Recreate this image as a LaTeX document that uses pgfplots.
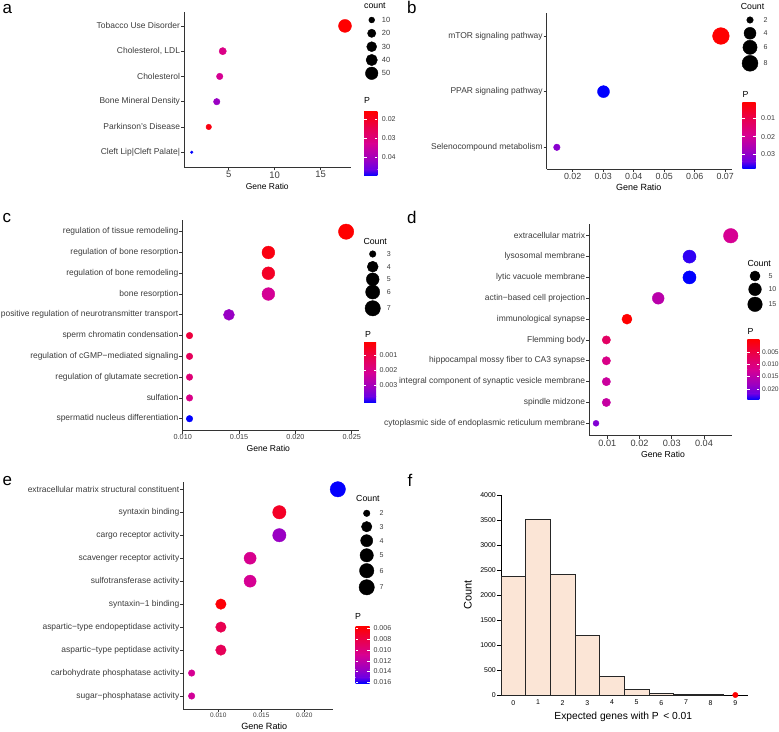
\documentclass[border=0pt]{standalone}
\usepackage{fontspec}
\setmainfont{Liberation Sans}
\usepackage{pgfplots}
\usepackage{pgfplotstable}
\pgfplotsset{compat=1.18}

\definecolor{cm0}{RGB}{255,0,0}
\definecolor{cm1}{RGB}{232,0,80}
\definecolor{cm2}{RGB}{214,0,147}
\definecolor{cm3}{RGB}{154,0,195}
\definecolor{cm4}{RGB}{104,0,230}
\definecolor{cm5}{RGB}{0,0,255}
\definecolor{peach}{RGB}{251,229,214}
\definecolor{axgray}{RGB}{51,51,51}
\definecolor{txtgray}{RGB}{60,60,60}

\pgfplotsset{colormap={rb}{rgb255(0cm)=(255,0,0); rgb255(5cm)=(232,0,80); rgb255(10cm)=(214,0,147); rgb255(15cm)=(154,0,195); rgb255(18cm)=(104,0,230); rgb255(20cm)=(0,0,255)}}

\newcommand\fs[1]{\fontsize{#1}{#1}\selectfont}

\pgfplotsset{
 dotpanel/.style={scale only axis, anchor=south west, clip=false,
  axis x line*=bottom, axis y line*=left,
  axis line style={axgray, line width=0.65bp},
  tick style={axgray, line width=0.65bp},
  tick align=outside, major tick length=3bp,
  scaled x ticks=false, scaled y ticks=false,
  colormap name=rb,
  yticklabel style={font=\fs{8.5}, text=txtgray, inner sep=0.8bp},
  xticklabel style={text=txtgray, inner sep=0.8bp},
  scatter/use mapped color={draw=mapped color, fill=mapped color},
 },
}

% data tables: k = category position (1 = bottom), gr = gene ratio, count, P
\pgfplotstableread{
k gr count P
6 17.64 54 0.0162
5 4.35 15 0.0313
4 4.02 12 0.0330
3 3.70 12 0.0414
2 2.83 9 0.0180
1 0.98 5 0.0498
}\tabA
\pgfplotstableread{
k gr count P
3 0.0686 9 0.0010
2 0.0301 4 0.0380
1 0.0148 2 0.0306
}\tabB
\pgfplotstableread{
k gr count P
10 0.0245 7 0.00012
9 0.0176 5 0.00032
8 0.0176 5 0.0006
7 0.0176 5 0.0022
6 0.0141 4 0.0032
5 0.0106 3 0.0009
4 0.0106 3 0.0013
3 0.0106 3 0.0017
2 0.0106 3 0.0020
1 0.0106 3 0.0042
}\tabC
\pgfplotstableread{
k gr count P
10 0.0483 15 0.0121
9 0.0355 11 0.0230
8 0.0355 11 0.0241
7 0.0258 8 0.0150
6 0.0161 5 0.0001
5 0.0097 3 0.0078
4 0.0097 3 0.0110
3 0.0097 3 0.0133
2 0.0097 3 0.0138
1 0.0065 2 0.0198
}\tabD
\pgfplotstableread{
k gr count P
10 0.0239 7 0.0162
9 0.0171 5 0.0070
8 0.0171 5 0.0136
7 0.0137 4 0.0108
6 0.0137 4 0.0110
5 0.0103 3 0.0060
4 0.0103 3 0.0084
3 0.0103 3 0.0087
2 0.0069 2 0.0110
1 0.0069 2 0.0112
}\tabE
% size-legend keys (x, y in pixels from top-left)
\pgfplotstableread{
x y count
371.7 20 10
371.7 33.3 20
371.7 46.7 30
371.7 60 40
371.7 73.3 50
}\legA
\pgfplotstableread{
x y count
750 20 2
750 33.3 4
750 47.3 6
750 63.3 8
}\legB
\pgfplotstableread{
x y count
372.7 254 3
372.7 266.7 4
372.7 279.3 5
372.7 292 6
372.7 308.3 7
}\legC
\pgfplotstableread{
x y count
755 276 5
755 289.3 10
755 304.3 15
}\legD
\pgfplotstableread{
x y count
366.7 513.3 2
366.7 526.7 3
366.7 540.7 4
366.7 555.3 5
366.7 570.7 6
366.7 587.3 7
}\legE

\newcommand\dotplot[5]{\addplot[scatter, only marks, mark=*, point meta=explicit,
  visualization depends on={#2+#3*sqrt((\thisrow{count}-#4)/#5)\as\rr},
  scatter/@pre marker code/.append style={/tikz/mark size=\rr}]
  table[x=gr,y=k,meta=P]{#1};}
\newcommand\sizekey[5]{\addplot[scatter, only marks, mark=*,
  scatter/use mapped color={draw=black, fill=black},
  visualization depends on={#2+#3*sqrt((\thisrow{count}-#4)/#5)\as\rr},
  scatter/@pre marker code/.append style={/tikz/mark size=\rr}]
  table[x=x,y=y]{#1};}

% colour bar: x1 x2 ytop ybottom (pixels, y downwards)
\newcommand\cbar[4]{%
 \pgfmathsetmacro\cbT{732-#3}%
 \pgfmathsetmacro\cbH{#4-#3}%
 \pgfmathsetmacro\cbA{\cbT-0.25*\cbH}%
 \pgfmathsetmacro\cbB{\cbT-0.5*\cbH}%
 \pgfmathsetmacro\cbC{\cbT-0.75*\cbH}%
 \pgfmathsetmacro\cbD{\cbT-0.9*\cbH}%
 \pgfmathsetmacro\cbE{\cbT-\cbH}%
 \shade[top color=cm0,bottom color=cm1] (#1bp,\cbT bp) rectangle (#2bp,\cbA bp-0.3bp);
 \shade[top color=cm1,bottom color=cm2] (#1bp,\cbA bp) rectangle (#2bp,\cbB bp-0.3bp);
 \shade[top color=cm2,bottom color=cm3] (#1bp,\cbB bp) rectangle (#2bp,\cbC bp-0.3bp);
 \shade[top color=cm3,bottom color=cm4] (#1bp,\cbC bp) rectangle (#2bp,\cbD bp-0.3bp);
 \shade[top color=cm4,bottom color=cm5] (#1bp,\cbD bp) rectangle (#2bp,\cbE bp);
}
\newcommand\cbtick[3]{%
 \pgfmathsetmacro\cbY{732-#3}\pgfmathsetmacro\cbW{(#2-#1)/5}%
 \draw[white, line width=0.5bp] (#1bp,\cbY bp) -- ++(\cbW bp,0) (#2bp,\cbY bp) -- ++(-\cbW bp,0);}

\begin{document}
\begin{tikzpicture}
% panel a
\begin{axis}[dotpanel, at={(184bp,564.6bp)}, width=166.7bp, height=155.5bp,
  xmin=0.141, xmax=18.26, ymin=0.4, ymax=6.554,
  point meta min=0.0162, point meta max=0.0498,
  xtick={5,10,15}, xticklabels={5,10,15}, xticklabel style={font=\fs{9.5}},
  ytick={1,...,6},
  yticklabels={Cleft Lip|Cleft Palate|, Parkinson's Disease, Bone Mineral Density, Cholesterol, {Cholesterol, LDL}, Tobacco Use Disorder}]
\dotplot{\tabA}{1.3}{5.2}{5}{49}
\end{axis}
% panel c
\begin{axis}[dotpanel, at={(182.3bp,301.3bp)}, width=177bp, height=210.7bp,
  xmin=0.00996, xmax=0.02567, ymin=0.4225, ymax=10.563,
  point meta min=0.00012, point meta max=0.0042,
  xtick={0.010,0.015,0.020,0.025}, xticklabels={0.010,0.015,0.020,0.025}, xticklabel style={font=\fs{7.3}},
  ytick={1,...,10},
  yticklabels={spermatid nucleus differentiation, sulfation, regulation of glutamate secretion, regulation of cGMP−mediated signaling, sperm chromatin condensation, positive regulation of neurotransmitter transport, bone resorption, regulation of bone remodeling, regulation of bone resorption, regulation of tissue remodeling}]
\dotplot{\tabC}{3.3}{4.4}{3}{4}
\end{axis}
% panel e
\begin{axis}[dotpanel, at={(183.3bp,22.7bp)}, width=149.7bp, height=227.6bp,
  xmin=0.00593, xmax=0.02334, ymin=0.421, ymax=10.33,
  point meta min=0.00576, point meta max=0.01624,
  xtick={0.010,0.015,0.020}, xticklabels={0.010,0.015,0.020}, xticklabel style={font=\fs{6.5}},
  ytick={1,...,10},
  yticklabels={sugar−phosphatase activity, carbohydrate phosphatase activity, aspartic−type peptidase activity, aspartic−type endopeptidase activity, syntaxin−1 binding, sulfotransferase activity, scavenger receptor activity, cargo receptor activity, syntaxin binding, extracellular matrix structural constituent}]
\dotplot{\tabE}{3.3}{4.4}{2}{5}
\end{axis}
% panel b
\begin{axis}[dotpanel, at={(546.7bp,563bp)}, width=185bp, height=155.7bp,
  xmin=0.01148, xmax=0.07213, ymin=0.61, ymax=3.408,
  point meta min=0.001, point meta max=0.038,
  xtick={0.02,0.03,0.04,0.05,0.06,0.07}, xticklabels={0.02,0.03,0.04,0.05,0.06,0.07}, xticklabel style={font=\fs{8.9}},
  ytick={1,2,3},
  yticklabels={Selenocompound metabolism, PPAR signaling pathway, mTOR signaling pathway}]
\dotplot{\tabB}{3.3}{5.08}{2}{7}
\end{axis}
% panel d
\begin{axis}[dotpanel, at={(589bp,296.3bp)}, width=142.7bp, height=211.6bp,
  xmin=0.00432, xmax=0.0486, ymin=0.405, ymax=10.56,
  point meta min=0.0001, point meta max=0.0241,
  xtick={0.01,0.02,0.03,0.04}, xticklabels={0.01,0.02,0.03,0.04}, xticklabel style={font=\fs{9.2}},
  ytick={1,...,10},
  yticklabels={cytoplasmic side of endoplasmic reticulum membrane, spindle midzone, integral component of synaptic vesicle membrane, hippocampal mossy fiber to CA3 synapse, Flemming body, immunological synapse, actin−based cell projection, lytic vacuole membrane, lysosomal membrane, extracellular matrix}]
\dotplot{\tabD}{3}{4.3}{2}{13}
\end{axis}
% panel f
\begin{axis}[scale only axis, anchor=south west, at={(501bp,37bp)}, width=247.4bp, height=200bp,
  xmin=-0.5, xmax=9.53, ymin=0, ymax=4000, clip=false,
  axis x line*=bottom, axis y line*=left,
  axis line style={black, line width=0.9bp},
  tick style={black, line width=0.7bp}, tick align=outside, major tick length=4bp,
  scaled y ticks=false,
  xtick={0,...,9}, xticklabels={0,1,2,3,4,5,6,7,8,9}, xtick style={draw=none},
  ytick={0,500,...,4000}, yticklabels={0,500,1000,1500,2000,2500,3000,3500,4000},
  ticklabel style={font=\fs{7}, inner sep=1bp}]
\addplot[ybar, bar width=1, fill=peach, draw=black!85, line width=1bp]
  coordinates {(0,2366) (1,3514) (2,2420) (3,1186) (4,366) (5,114) (6,26) (7,6) (8,1)};
\addplot[only marks, mark=*, mark size=2.7bp, color=red] coordinates {(9,0)};
\end{axis}

% ---------------- colour bars ----------------
\cbar{364}{377.3}{112}{176}
\cbtick{364}{377.3}{119.3}\cbtick{364}{377.3}{138.3}\cbtick{364}{377.3}{157.3}
\cbar{742.3}{755.7}{102.3}{168.3}
\cbtick{742.3}{755.7}{118.3}\cbtick{742.3}{755.7}{136.7}\cbtick{742.3}{755.7}{154}
\cbar{364}{376}{342.3}{402.7}
\cbtick{364}{376}{355.3}\cbtick{364}{376}{370}\cbtick{364}{376}{385}
\cbar{747.3}{759.3}{339.3}{400}
\cbtick{747.3}{759.3}{352.7}\cbtick{747.3}{759.3}{364.7}\cbtick{747.3}{759.3}{376.7}\cbtick{747.3}{759.3}{389.3}
\cbar{355.5}{369.5}{626.7}{683.3}
\cbtick{355.5}{369.5}{628}\cbtick{355.5}{369.5}{639.3}\cbtick{355.5}{369.5}{650}\cbtick{355.5}{369.5}{661}\cbtick{355.5}{369.5}{671.3}\cbtick{355.5}{369.5}{682}

% ---------------- size legends ----------------
\begin{axis}[at={(0,0)}, anchor=south west, scale only axis, width=779bp, height=732bp,
  xmin=0, xmax=779, ymin=0, ymax=732, y dir=reverse, hide axis, clip=false]
\sizekey{\legA}{1.3}{5.2}{5}{49}
\sizekey{\legB}{3.3}{5.08}{2}{7}
\sizekey{\legC}{3.3}{4.4}{3}{4}
\sizekey{\legD}{3}{4.3}{2}{13}
\sizekey{\legE}{3.3}{4.4}{2}{5}
\end{axis}

% ---------------- texts ----------------
\begin{scope}[shift={(0,732bp)}, x=1bp, y=-1bp]
\node[anchor=base west, font=\fs{17}, inner sep=0] at (2.5,14) {a};
\node[anchor=base west, font=\fs{17}, inner sep=0] at (2.5,222.7) {c};
\node[anchor=base west, font=\fs{17}, inner sep=0] at (2.5,486) {e};
\node[anchor=base, font=\fs{8.5}, inner sep=0] at (267.3,189.3) {Gene Ratio};
\node[anchor=base, font=\fs{8.6}, inner sep=0] at (268.3,451.3) {Gene Ratio};
\node[anchor=base, font=\fs{9.1}, inner sep=0] at (264.2,730) {Gene Ratio};
% legend a
\node[anchor=base west, font=\fs{8.8}, inner sep=0] at (364,8.7) {count};
\foreach \yy/\tt in {20/10,33.3/20,46.7/30,60/40,73.3/50}
  \node[anchor=west, font=\fs{7.5}, inner sep=0, text=txtgray] at (381.7,\yy) {\tt};
\node[anchor=base west, font=\fs{8.8}, inner sep=0] at (364,103.3) {P};
\foreach \yy/\tt in {119.3/0.02,138.3/0.03,157.3/0.04}
  \node[anchor=west, font=\fs{7.1}, inner sep=0, text=txtgray] at (381.7,\yy) {\tt};
% legend c
\node[anchor=base west, font=\fs{8.8}, inner sep=0] at (363.3,245) {Count};
\foreach \yy/\tt in {254/3,266.7/4,279.3/5,292/6,308.3/7}
  \node[anchor=west, font=\fs{7.1}, inner sep=0, text=txtgray] at (386.7,\yy) {\tt};
\node[anchor=base west, font=\fs{8.8}, inner sep=0] at (365,337.3) {P};
\foreach \yy/\tt in {355.3/0.001,370/0.002,385/0.003}
  \node[anchor=west, font=\fs{7.1}, inner sep=0, text=txtgray] at (379.3,\yy) {\tt};
% legend e
\node[anchor=base west, font=\fs{8.8}, inner sep=0] at (356,501.7) {Count};
\foreach \yy/\tt in {513.3/2,526.7/3,540.7/4,555.3/5,570.7/6,587.3/7}
  \node[anchor=west, font=\fs{7.1}, inner sep=0, text=txtgray] at (379.3,\yy) {\tt};
\node[anchor=base west, font=\fs{8.8}, inner sep=0] at (355,620) {P};
\foreach \yy/\tt in {628/0.006,639.3/0.008,650/0.010,661/0.012,671.3/0.014,682/0.016}
  \node[anchor=west, font=\fs{7.1}, inner sep=0, text=txtgray] at (373.3,\yy) {\tt};
% right column
\node[anchor=base west, font=\fs{17}, inner sep=0] at (407,14) {b};
\node[anchor=base west, font=\fs{17}, inner sep=0] at (407,223.3) {d};
\node[anchor=base west, font=\fs{17}, inner sep=0] at (407.5,486.7) {f};
\node[anchor=base, font=\fs{9}, inner sep=0] at (638.8,190.7) {Gene Ratio};
\node[anchor=base, font=\fs{8.7}, inner sep=0] at (663,457.7) {Gene Ratio};
% legend b
\node[anchor=base west, font=\fs{8.8}, inner sep=0] at (740.7,9.3) {Count};
\foreach \yy/\tt in {20/2,33.3/4,47.3/6,63.3/8}
  \node[anchor=west, font=\fs{7.1}, inner sep=0, text=txtgray] at (763.3,\yy) {\tt};
\node[anchor=base west, font=\fs{8.8}, inner sep=0] at (742.3,97.3) {P};
\foreach \yy/\tt in {118.3/0.01,136.7/0.02,154/0.03}
  \node[anchor=west, font=\fs{7.1}, inner sep=0, text=txtgray] at (761,\yy) {\tt};
% legend d
\node[anchor=base west, font=\fs{8.8}, inner sep=0] at (747.3,266.7) {Count};
\foreach \yy/\tt in {276/5,289.3/10,304.3/15}
  \node[anchor=west, font=\fs{7.1}, inner sep=0, text=txtgray] at (768.3,\yy) {\tt};
\node[anchor=base west, font=\fs{8.8}, inner sep=0] at (747.3,334.3) {P};
\foreach \yy/\tt in {352.7/0.005,364.7/0.010,376.7/0.015,389.3/0.020}
  \node[anchor=west, font=\fs{6.7}, inner sep=0, text=txtgray] at (761.8,\yy) {\tt};
% panel f labels
\node[anchor=base, rotate=90, font=\fs{11}, inner sep=0] at (471.7,594.7) {Count};
\node[anchor=base, font=\fs{10.3}, inner sep=0] at (623.3,719.3) {Expected genes with P \,< 0.01};
\end{scope}

\pgfresetboundingbox
\useasboundingbox (0,0) rectangle (779bp,732bp);
\end{tikzpicture}
\end{document}
